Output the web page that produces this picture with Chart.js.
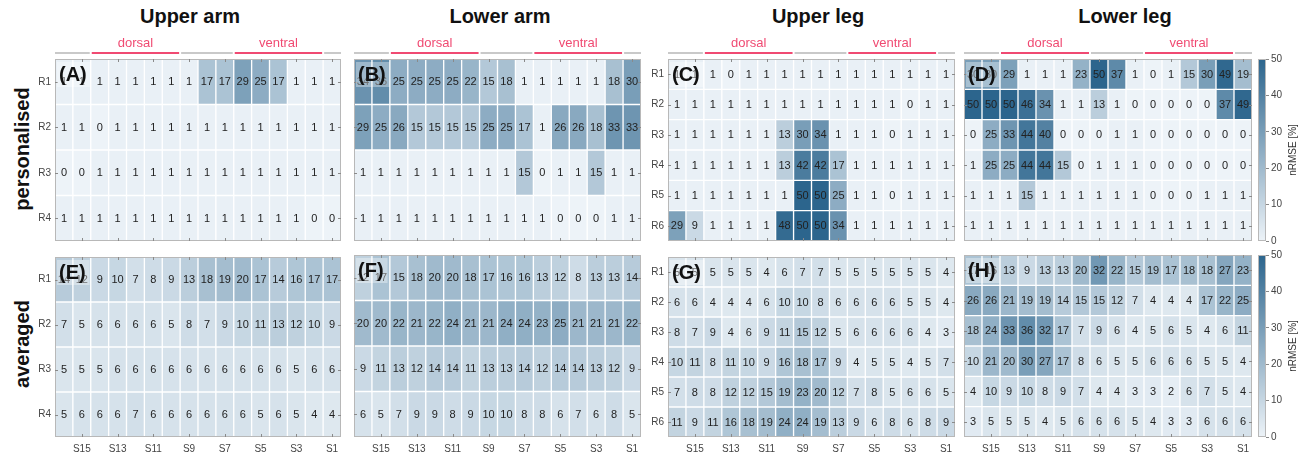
<!DOCTYPE html>
<html>
<head>
<meta charset="utf-8">
<title>nRMSE heatmaps</title>
<script src="https://cdn.jsdelivr.net/npm/chart.js@4.4.1/dist/chart.umd.min.js"></script>
<style>
  html, body { margin: 0; padding: 0; background: #fff; width: 1311px; height: 457px; overflow: hidden;
    font-family: "Liberation Sans", Arial, sans-serif; }
  .holder { position: absolute; }
  .title { position: absolute; top: 5px; font-weight: bold; font-size: 20px; color: #111;
    transform: translateX(-50%); white-space: nowrap; }
  .rowlab { position: absolute; font-weight: bold; font-size: 20px; color: #111;
    transform: translate(-50%, -50%) rotate(-90deg); white-space: nowrap; }
</style>
</head>
<body>
<div class="title" style="left:190px">Upper arm</div>
<div class="title" style="left:500px">Lower arm</div>
<div class="title" style="left:818px">Upper leg</div>
<div class="title" style="left:1125px">Lower leg</div>
<div class="rowlab" style="left:22px; top:149px">personalised</div>
<div class="rowlab" style="left:22px; top:344px">averaged</div>

<script>
// Column (sensor) labels, left to right, and the ones that carry a tick
const columnLabels = ['S16','S15','S14','S13','S12','S11','S10','S9','S8','S7','S6','S5','S4','S3','S2','S1'];
const tickedColumns = ['S15','S13','S11','S9','S7','S5','S3','S1'];
const armRows = ['R1','R2','R3','R4'];
const legRows = ['R1','R2','R3','R4','R5','R6'];
const sideGroups = [
  { name: 'dorsal', first: 'S14', last: 'S10' },
  { name: 'ventral', first: 'S6', last: 'S2' }
];

// nRMSE [%], personalised
const upperArmPersonalised = [
  [1,1,1,1,1,1,1,1,17,17,29,25,17,1,1,1],
  [1,1,0,1,1,1,1,1,1,1,1,1,1,1,1,1],
  [0,0,1,1,1,1,1,1,1,1,1,1,1,1,1,1],
  [1,1,1,1,1,1,1,1,1,1,1,1,1,1,0,0]
];
const lowerArmPersonalised = [
  [34,36,25,25,25,25,22,15,18,1,1,1,1,1,18,30],
  [29,25,26,15,15,15,15,25,25,17,1,26,26,18,33,33],
  [1,1,1,1,1,1,1,1,1,15,0,1,1,15,1,1],
  [1,1,1,1,1,1,1,1,1,1,1,0,0,0,1,1]
];
const upperLegPersonalised = [
  [1,1,1,0,1,1,1,1,1,1,1,1,1,1,1,1],
  [1,1,1,1,1,1,1,1,1,1,1,1,1,0,1,1],
  [1,1,1,1,1,1,13,30,34,1,1,1,0,1,1,1],
  [1,1,1,1,1,1,13,42,42,17,1,1,1,1,1,1],
  [1,1,1,1,1,1,1,50,50,25,1,1,0,1,1,1],
  [29,9,1,1,1,1,48,50,50,34,1,1,1,1,1,1]
];
const lowerLegPersonalised = [
  [30,30,29,1,1,1,23,50,37,1,0,1,15,30,49,19],
  [50,50,50,46,34,1,1,13,1,0,0,0,0,0,37,49],
  [0,25,33,44,40,0,0,0,1,1,0,0,0,0,0,0],
  [1,25,25,44,44,15,0,1,1,1,0,0,0,0,0,0],
  [1,1,1,15,1,1,1,1,1,1,0,0,0,1,1,1],
  [1,1,1,1,1,1,1,1,1,1,1,1,1,1,1,1]
];

// nRMSE [%], averaged
const upperArmAveraged = [
  [14,12,9,10,7,8,9,13,18,19,20,17,14,16,17,17],
  [7,5,6,6,6,6,5,8,7,9,10,11,13,12,10,9],
  [5,5,5,6,6,6,6,6,6,6,6,6,6,5,6,6],
  [5,6,6,6,7,6,6,6,6,6,6,5,6,5,4,4]
];
const lowerArmAveraged = [
  [12,17,15,18,20,20,18,17,16,16,13,12,8,13,13,14],
  [20,20,22,21,22,24,21,21,24,24,23,25,21,21,21,22],
  [9,11,13,12,14,14,11,13,13,14,12,14,14,13,12,9],
  [6,5,7,9,9,8,9,10,10,8,8,6,7,6,8,5]
];
const upperLegAveraged = [
  [5,5,5,5,5,4,6,7,7,5,5,5,5,5,5,4],
  [6,6,4,4,4,6,10,10,8,6,6,6,6,5,5,4],
  [8,7,9,4,6,9,11,15,12,5,6,6,6,6,4,3],
  [10,11,8,11,10,9,16,18,17,9,4,5,5,4,5,7],
  [7,8,8,12,12,15,19,23,20,12,7,8,5,6,6,5],
  [11,9,11,16,18,19,24,24,19,13,9,6,8,6,8,9]
];
const lowerLegAveraged = [
  [17,16,13,9,13,13,20,32,22,15,19,17,18,18,27,23],
  [26,26,21,19,19,14,15,15,12,7,4,4,4,17,22,25],
  [18,24,33,36,32,17,7,9,6,4,5,6,5,4,6,11],
  [10,21,20,30,27,17,8,6,5,5,6,6,6,5,5,4],
  [4,10,9,10,8,9,7,4,4,3,3,2,6,7,5,4],
  [3,5,5,5,4,5,6,6,6,5,4,3,3,6,6,6]
];

// Colour scale
const colorRange = [0, 50];
const colorbarTicks = [0, 10, 20, 30, 40, 50];
const lightRGB = [237, 243, 248];
const darkRGB = [44, 101, 141];

function rgbStr(c) { return 'rgb(' + c.map(Math.round).join(',') + ')'; }
function colormap(v) {
  const t = Math.max(0, Math.min(1, (v - colorRange[0]) / (colorRange[1] - colorRange[0])));
  return rgbStr(lightRGB.map((l, i) => l + (darkRGB[i] - l) * t));
}

const FONT = '"Liberation Sans", Arial, sans-serif';
const PINK = '#f04a72';

function makeCanvas(left, top, w, h) {
  const d = document.createElement('div');
  d.className = 'holder';
  d.style.left = left + 'px'; d.style.top = top + 'px';
  d.style.width = w + 'px'; d.style.height = h + 'px';
  const c = document.createElement('canvas');
  c.width = w; c.height = h;
  c.style.width = w + 'px'; c.style.height = h + 'px';
  d.appendChild(c);
  document.body.appendChild(d);
  return c;
}

function heatmap(p) {
  const yW = 40, padR = 6;
  const topPad = p.header ? 29 : 8;
  const xH = p.showCols ? 24 : 10;
  const W = yW + p.w + padR, H = topPad + p.h + xH;
  const canvas = makeCanvas(p.left - yW, p.top - topPad, W, H);

  const datasets = p.rows.map((row, r) => ({
    label: row,
    data: p.values[r].map(() => [r + 0.5, r + 1.5]),
    backgroundColor: p.values[r].map(v => colormap(v)),
    borderColor: 'rgba(255,255,255,0.3)',
    borderWidth: 1,
    borderSkipped: false,
    barPercentage: 1,
    categoryPercentage: 1,
    grouped: false
  }));

  const plugin = {
    id: 'heatDecor',
    afterDatasetsDraw(chart) {
      const ctx = chart.ctx;
      const a = chart.chartArea;
      const xs = chart.scales.x, ys = chart.scales.y;
      ctx.save();
      // cell values
      ctx.font = '11px ' + FONT;
      ctx.fillStyle = '#222';
      ctx.textAlign = 'center';
      ctx.textBaseline = 'middle';
      chart.data.datasets.forEach((ds, r) => {
        chart.getDatasetMeta(r).data.forEach((bar, c) => {
          const pr = bar.getProps(['x', 'y', 'base'], true);
          ctx.fillText(String(p.values[r][c]), pr.x, (pr.y + pr.base) / 2 + 0.5);
        });
      });
      // frame
      ctx.strokeStyle = '#b8b8b8';
      ctx.lineWidth = 1;
      ctx.strokeRect(a.left + 0.5, a.top + 0.5, a.right - a.left - 1, a.bottom - a.top - 1);
      // inward tick marks
      ctx.strokeStyle = '#8a8a8a';
      ctx.beginPath();
      tickedColumns.forEach(lbl => {
        const px = Math.round(xs.getPixelForValue(columnLabels.indexOf(lbl))) + 0.5;
        ctx.moveTo(px, a.top); ctx.lineTo(px, a.top + 3);
        ctx.moveTo(px, a.bottom); ctx.lineTo(px, a.bottom - 3);
      });
      p.rows.forEach((row, r) => {
        const py = Math.round(ys.getPixelForValue(r + 1)) + 0.5;
        ctx.moveTo(a.left, py); ctx.lineTo(a.left + 3, py);
        ctx.moveTo(a.right, py); ctx.lineTo(a.right - 3, py);
      });
      ctx.stroke();
      // panel letter
      ctx.font = 'bold 20px ' + FONT;
      ctx.textAlign = 'left';
      ctx.textBaseline = 'middle';
      const tw = ctx.measureText(p.letter).width;
      ctx.fillStyle = 'rgba(255,255,255,0.35)';
      ctx.fillRect(a.left + 2, a.top + 3, tw + 6, 25);
      ctx.fillStyle = '#111';
      ctx.fillText(p.letter, a.left + 4, a.top + 16);
      // dorsal / ventral header
      if (p.header) {
        const colW = xs.getPixelForValue(1) - xs.getPixelForValue(0);
        const lineY = a.top - 6;
        const spans = sideGroups.map(g => ({
          name: g.name,
          x1: xs.getPixelForValue(columnLabels.indexOf(g.first)) - colW / 2,
          x2: xs.getPixelForValue(columnLabels.indexOf(g.last)) + colW / 2
        }));
        ctx.lineWidth = 1.5;
        ctx.strokeStyle = '#b8b8b8';
        ctx.beginPath();
        let start = a.left;
        spans.forEach(s => { ctx.moveTo(start, lineY); ctx.lineTo(s.x1 - 1, lineY); start = s.x2 + 1; });
        ctx.moveTo(start, lineY); ctx.lineTo(a.right, lineY);
        ctx.stroke();
        ctx.lineWidth = 2;
        ctx.strokeStyle = PINK;
        ctx.beginPath();
        spans.forEach(s => { ctx.moveTo(s.x1 + 1, lineY); ctx.lineTo(s.x2 - 1, lineY); });
        ctx.stroke();
        ctx.fillStyle = PINK;
        ctx.font = '13px ' + FONT;
        ctx.textAlign = 'center';
        ctx.textBaseline = 'middle';
        spans.forEach(s => ctx.fillText(s.name, (s.x1 + s.x2) / 2, lineY - 10));
      }
      ctx.restore();
    }
  };

  return new Chart(canvas, {
    type: 'bar',
    data: { labels: columnLabels, datasets },
    options: {
      responsive: false,
      animation: false,
      devicePixelRatio: 1,
      layout: { padding: { top: topPad, right: padR, left: 0, bottom: 0 } },
      plugins: { legend: { display: false }, tooltip: { enabled: false } },
      scales: {
        x: {
          type: 'category',
          offset: true,
          grid: { display: false, drawTicks: false },
          border: { display: false },
          ticks: {
            display: p.showCols,
            autoSkip: false,
            maxRotation: 0,
            padding: 6,
            color: '#444',
            font: { family: FONT, size: 10 },
            callback: (v, i) => tickedColumns.includes(columnLabels[i]) ? columnLabels[i] : ''
          },
          afterFit: s => { s.height = xH; }
        },
        y: {
          type: 'linear',
          reverse: true,
          min: 0.5,
          max: p.rows.length + 0.5,
          afterBuildTicks: s => { s.ticks = p.rows.map((r, i) => ({ value: i + 1 })); },
          grid: { display: false, drawTicks: false },
          border: { display: false },
          ticks: {
            display: p.showRows,
            padding: 4,
            color: '#444',
            font: { family: FONT, size: 10 },
            callback: v => p.rows[v - 1]
          },
          afterFit: s => { s.width = yW; }
        }
      }
    },
    plugins: [plugin]
  });
}

function colorbar(top, h) {
  const axisW = 45, pad = 8;
  const canvas = makeCanvas(1258, top - pad, 8 + axisW, h + 2 * pad);
  const plugin = {
    id: 'cbarDecor',
    afterDraw(chart) {
      const ctx = chart.ctx, a = chart.chartArea;
      ctx.save();
      ctx.strokeStyle = '#b8b8b8';
      ctx.lineWidth = 1;
      ctx.strokeRect(a.left + 0.5, a.top + 0.5, a.right - a.left - 1, a.bottom - a.top - 1);
      ctx.translate(a.right + 27, (a.top + a.bottom) / 2);
      ctx.rotate(-Math.PI / 2);
      ctx.fillStyle = '#333';
      ctx.font = '10px ' + FONT;
      ctx.textAlign = 'center';
      ctx.textBaseline = 'middle';
      ctx.fillText('nRMSE [%]', 0, 0);
      ctx.restore();
    }
  };
  return new Chart(canvas, {
    type: 'bar',
    data: {
      labels: [''],
      datasets: [{
        data: [colorRange],
        barPercentage: 1,
        categoryPercentage: 1,
        borderWidth: 0,
        backgroundColor: c => {
          const ys = c.chart.scales.y;
          if (!ys) return colormap(colorRange[0]);
          const y0 = ys.getPixelForValue(colorRange[0]);
          const y1 = ys.getPixelForValue(colorRange[1]);
          if (!isFinite(y0) || !isFinite(y1) || y0 === y1) return colormap((colorRange[0] + colorRange[1]) / 2);
          const g = c.chart.ctx.createLinearGradient(0, y0, 0, y1);
          g.addColorStop(0, colormap(colorRange[0]));
          g.addColorStop(1, colormap(colorRange[1]));
          return g;
        }
      }]
    },
    options: {
      responsive: false,
      animation: false,
      devicePixelRatio: 1,
      layout: { padding: { top: pad, bottom: pad, left: 0, right: 0 } },
      plugins: { legend: { display: false }, tooltip: { enabled: false } },
      scales: {
        x: { display: false },
        y: {
          position: 'right',
          min: colorRange[0],
          max: colorRange[1],
          afterBuildTicks: s => { s.ticks = colorbarTicks.map(v => ({ value: v })); },
          grid: { drawOnChartArea: false, tickLength: 3, color: '#888' },
          border: { display: false },
          ticks: { padding: 2, color: '#444', font: { family: FONT, size: 10 } },
          afterFit: s => { s.width = axisW; }
        }
      }
    },
    plugins: [plugin]
  });
}

const topY = 59, botY = 255, panelH = 182;
const panels = [
  { letter: '(A)', rows: armRows, values: upperArmPersonalised, left: 55,  top: topY, w: 286, showRows: true,  showCols: false, header: true },
  { letter: '(B)', rows: armRows, values: lowerArmPersonalised, left: 354, top: topY, w: 287, showRows: false, showCols: false, header: true },
  { letter: '(C)', rows: legRows, values: upperLegPersonalised, left: 668, top: topY, w: 287, showRows: true,  showCols: false, header: true },
  { letter: '(D)', rows: legRows, values: lowerLegPersonalised, left: 964, top: topY, w: 288, showRows: false, showCols: false, header: true },
  { letter: '(E)', rows: armRows, values: upperArmAveraged, left: 55,  top: botY, w: 286, showRows: true,  showCols: true, header: false },
  { letter: '(F)', rows: armRows, values: lowerArmAveraged, left: 354, top: botY, w: 287, showRows: false, showCols: true, header: false },
  { letter: '(G)', rows: legRows, values: upperLegAveraged, left: 668, top: botY, w: 287, showRows: true,  showCols: true, header: false },
  { letter: '(H)', rows: legRows, values: lowerLegAveraged, left: 964, top: botY, w: 288, showRows: false, showCols: true, header: false }
];

panels.forEach(p => { p.h = panelH; heatmap(p); });
colorbar(topY, panelH);
colorbar(botY, panelH);
</script>
</body>
</html>
